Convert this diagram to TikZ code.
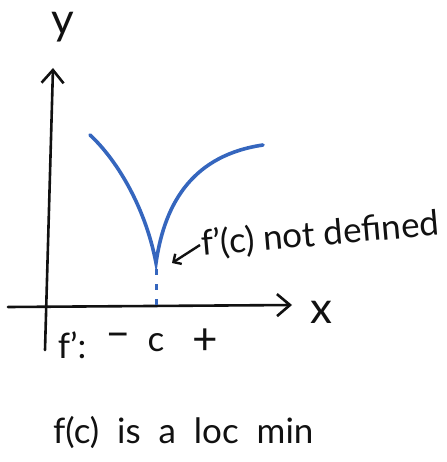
\documentclass[tikz,border=0pt]{standalone}
\usepackage{fontspec}
\setmainfont{Lato}
\usepackage{tikz}
\usetikzlibrary{arrows.meta,positioning,calc}
\definecolor{sketchblue}{HTML}{3566BE}
\definecolor{sketchink}{HTML}{111111}

\begin{document}
\begin{tikzpicture}[x=1pt,y=-1pt,
    axe/.style   = {sketchink,line width=2.6pt,line cap=round,
                    -{Straight Barb[length=13pt,width=22pt,line width=2.6pt]}},
    courbe/.style= {sketchblue,line width=3.6pt,line cap=round},
    repere/.style= {sketchblue,line width=3pt,dash pattern=on 6pt off 9pt},
    hand/.style  = {font=\fontsize{35}{40}\selectfont,text=sketchink,inner sep=1pt},
    grand/.style = {hand,font=\fontsize{44}{48}\selectfont},
    fleche/.style= {sketchink,line width=2.4pt,-{Straight Barb[length=6pt,width=12pt,line width=2.4pt]}},
  ]
  \useasboundingbox (0,0) rectangle (446,462);

  % ── Axes ──────────────────────────────────────────────────────────────────
  \coordinate (ybas)  at (45,350);
  \coordinate (yhaut) at (53,68);
  \coordinate (xgau)  at (8,307);
  \coordinate (xdro)  at (292,305);
  \draw[axe] (ybas) -- (yhaut);
  \draw[axe] (xgau) -- (xdro);
  \node[grand,anchor=base] (ylab) at (63,35)  {y};
  \node[grand] (xlab) at (321,312) {x};

  % ── Courbe avec point anguleux ────────────────────────────────────────────
  \coordinate (gauche) at (90,135);
  \coordinate (pointe) at (156,263);
  \coordinate (droite) at (263,145);
  \coordinate (pied)   at (156,306);
  \draw[courbe] (gauche) .. controls (115,158) and (145,205) .. (pointe)
                         .. controls (165,200) and (195,155) .. (droite);
  \draw[repere] ($(pointe)+(0,6)$) -- (pied);

  % ── Annotation ────────────────────────────────────────────────────────────
  \node[hand,rotate=5,anchor=west] (note) at (200,245) {f'(c) not defined};
  \draw[fleche] (note.west) -- ($(pointe)+(16,0)$);

  % ── Signe de la dérivée ───────────────────────────────────────────────────
  \node[hand]  (fp)    at (72,345)  {f':};
  \node[grand] (moins) at (118,340) {–};
  \node[hand]  (cval)  at (156,343) {c};
  \node[grand] (plus)  at (205,342) {+};

  % ── Conclusion ────────────────────────────────────────────────────────────
  \node[hand,anchor=west] (concl) at (52,432) {f(c)\ \ is\ \ a\ \ loc\ \ min};

\end{tikzpicture}
\end{document}
